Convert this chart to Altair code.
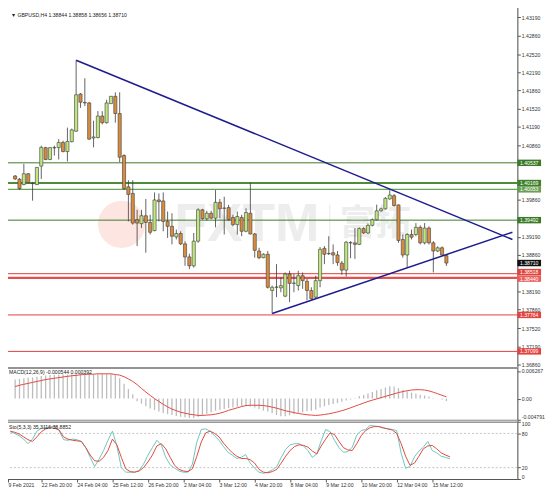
import altair as alt
import pandas as pd

# ---------------- data ----------------
opens = [1.40297, 1.40238, 1.40140, 1.40338, 1.40158, 1.40140, 1.40477, 1.40814, 1.40598, 1.40810,
         1.40814, 1.40909, 1.40742, 1.40922, 1.41113, 1.41791, 1.41629, 1.41629, 1.40990, 1.40999,
         1.41390, 1.41269, 1.41616, 1.41750, 1.41436, 1.40670, 1.40099, 1.39979, 1.39500, 1.39428,
         1.39572, 1.39451, 1.39302, 1.39860, 1.39842, 1.39469, 1.39379, 1.39186, 1.39248, 1.39060,
         1.38821, 1.38659, 1.39109, 1.39680, 1.39518, 1.39618, 1.39528, 1.39816, 1.39708, 1.39721,
         1.39541, 1.39410, 1.39541, 1.39289, 1.39618, 1.39240, 1.38929, 1.38808, 1.38870, 1.38209,
         1.38268, 1.38258, 1.38106, 1.38510, 1.38340, 1.38299, 1.38479, 1.38376, 1.38209, 1.38088,
         1.38389, 1.38978, 1.38880, 1.38898, 1.38857, 1.38708, 1.38581, 1.39078, 1.39078, 1.39050,
         1.39338, 1.39258, 1.39397, 1.39500, 1.39662, 1.39698, 1.39878, 1.39937, 1.39770, 1.39140,
         1.38857, 1.39230, 1.39230, 1.39361, 1.39078, 1.39348, 1.39078, 1.38929, 1.38988, 1.38844]

highs = [1.40315, 1.40261, 1.40518, 1.40351, 1.40189, 1.40459, 1.40850, 1.40828, 1.40819, 1.40850,
         1.40968, 1.40940, 1.41179, 1.41161, 1.42408, 1.41809, 1.42079, 1.41647, 1.41305, 1.41480,
         1.41480, 1.41688, 1.41755, 1.41822, 1.41822, 1.40693, 1.40220, 1.40220, 1.39680, 1.39680,
         1.39878, 1.39590, 1.39997, 1.39979, 1.39997, 1.39649, 1.39618, 1.39320, 1.39289, 1.39109,
         1.38880, 1.39258, 1.39708, 1.39698, 1.39662, 1.39662, 1.40040, 1.39878, 1.39919, 1.39770,
         1.39590, 1.39649, 1.39590, 1.39708, 1.40176, 1.39258, 1.38988, 1.38888, 1.38929, 1.38299,
         1.38690, 1.38448, 1.38538, 1.38569, 1.38510, 1.38569, 1.38538, 1.38420, 1.38268, 1.38479,
         1.39001, 1.39019, 1.39199, 1.39050, 1.38929, 1.38749, 1.39109, 1.39109, 1.39348, 1.39361,
         1.39361, 1.39433, 1.39523, 1.39775, 1.39721, 1.39914, 1.40040, 1.39968, 1.39775, 1.39230,
         1.39253, 1.39320, 1.39438, 1.39397, 1.39438, 1.39379, 1.39109, 1.39014, 1.39014, 1.38858]

lows = [1.40225, 1.40045, 1.40129, 1.40158, 1.39847, 1.40135, 1.40243, 1.40585, 1.40585, 1.40670,
        1.40598, 1.40729, 1.40562, 1.40909, 1.41102, 1.41539, 1.41570, 1.40958, 1.40819, 1.40981,
        1.41238, 1.41251, 1.41611, 1.41269, 1.40549, 1.40040, 1.39469, 1.39410, 1.39019, 1.39348,
        1.38898, 1.39230, 1.39289, 1.39469, 1.39289, 1.39168, 1.39050, 1.39140, 1.39037, 1.38659,
        1.38599, 1.38628, 1.39078, 1.39500, 1.39482, 1.39510, 1.39361, 1.39528, 1.39230, 1.39482,
        1.39379, 1.39230, 1.39199, 1.39271, 1.39230, 1.38808, 1.38780, 1.38798, 1.38245, 1.37790,
        1.38088, 1.38178, 1.38088, 1.37998, 1.38178, 1.38209, 1.38240, 1.38029, 1.38042, 1.38060,
        1.38268, 1.38690, 1.38857, 1.38690, 1.38659, 1.38497, 1.38461, 1.38798, 1.38785, 1.39037,
        1.39240, 1.39240, 1.39379, 1.39487, 1.39644, 1.39685, 1.39865, 1.39739, 1.39078, 1.38808,
        1.38628, 1.39140, 1.39199, 1.39050, 1.39050, 1.39050, 1.38538, 1.38911, 1.38839, 1.38656]

closes = [1.40243, 1.40069, 1.40338, 1.40176, 1.40162, 1.40454, 1.40819, 1.40598, 1.40814, 1.40814,
          1.40909, 1.40742, 1.40927, 1.41138, 1.41778, 1.41642, 1.41638, 1.40968, 1.41008, 1.41390,
          1.41269, 1.41629, 1.41750, 1.41436, 1.40639, 1.40069, 1.39961, 1.39438, 1.39438, 1.39572,
          1.39451, 1.39271, 1.39860, 1.39829, 1.39469, 1.39379, 1.39199, 1.39248, 1.39060, 1.38821,
          1.38659, 1.39109, 1.39680, 1.39518, 1.39618, 1.39528, 1.39816, 1.39698, 1.39712, 1.39500,
          1.39410, 1.39559, 1.39289, 1.39631, 1.39240, 1.38942, 1.38808, 1.38870, 1.38268, 1.38268,
          1.38272, 1.38299, 1.38510, 1.38340, 1.38344, 1.38479, 1.38389, 1.38209, 1.38060, 1.38389,
          1.38960, 1.38870, 1.38884, 1.38857, 1.38718, 1.38581, 1.39091, 1.39082, 1.39050, 1.39338,
          1.39258, 1.39397, 1.39500, 1.39662, 1.39698, 1.39888, 1.39950, 1.39757, 1.39122, 1.38857,
          1.39230, 1.39181, 1.39361, 1.39078, 1.39348, 1.39078, 1.38929, 1.38988, 1.38857, 1.38710]

macd_main = [0.00432, 0.00446, 0.00461, 0.00475, 0.00482, 0.00497, 0.00511, 0.00526, 0.00533, 0.00540,
             0.00540, 0.00547, 0.00547, 0.00554, 0.00562, 0.00569, 0.00569, 0.00562, 0.00554, 0.00554,
             0.00562, 0.00562, 0.00554, 0.00533, 0.00461, 0.00338, 0.00216, 0.00101, -0.00058, -0.00115,
             -0.00173, -0.00223, -0.00259, -0.00295, -0.00324, -0.00353, -0.00374, -0.00396, -0.00410, -0.00425,
             -0.00439, -0.00439, -0.00418, -0.00382, -0.00346, -0.00310, -0.00274, -0.00259, -0.00238, -0.00216,
             -0.00202, -0.00187, -0.00173, -0.00166, -0.00180, -0.00202, -0.00238, -0.00274, -0.00295, -0.00331,
             -0.00374, -0.00403, -0.00403, -0.00382, -0.00353, -0.00331, -0.00310, -0.00288, -0.00274, -0.00252,
             -0.00202, -0.00173, -0.00144, -0.00122, -0.00101, -0.00072, -0.00043, -0.00022, 0.00014, 0.00058,
             0.00086, 0.00115, 0.00151, 0.00187, 0.00216, 0.00252, 0.00281, 0.00274, 0.00238, 0.00202,
             0.00166, 0.00137, 0.00108, 0.00086, 0.00072, 0.00050, 0.00015, 0.00000, -0.00022, -0.000544]

macd_signal = [0.00274, 0.00302, 0.00324, 0.00346, 0.00367, 0.00389, 0.00410, 0.00432, 0.00446, 0.00461,
               0.00475, 0.00490, 0.00504, 0.00518, 0.00526, 0.00540, 0.00547, 0.00554, 0.00554, 0.00562,
               0.00562, 0.00562, 0.00562, 0.00547, 0.00533, 0.00497, 0.00446, 0.00389, 0.00317, 0.00230,
               0.00151, 0.00072, 0.00000, -0.00065, -0.00130, -0.00187, -0.00238, -0.00274, -0.00310, -0.00331,
               -0.00353, -0.00367, -0.00382, -0.00382, -0.00374, -0.00367, -0.00353, -0.00331, -0.00302, -0.00266,
               -0.00238, -0.00209, -0.00180, -0.00158, -0.00151, -0.00151, -0.00151, -0.00158, -0.00173, -0.00194,
               -0.00216, -0.00245, -0.00274, -0.00295, -0.00317, -0.00338, -0.00353, -0.00367, -0.00374, -0.00382,
               -0.00374, -0.00360, -0.00346, -0.00324, -0.00302, -0.00274, -0.00245, -0.00209, -0.00173, -0.00137,
               -0.00101, -0.00065, -0.00036, -0.00007, 0.00022, 0.00050, 0.00079, 0.00108, 0.00137, 0.00158,
               0.00180, 0.00194, 0.00202, 0.00202, 0.00194, 0.00175, 0.00145, 0.00110, 0.00075, 0.000392]

stoch_k = [83, 80, 76, 70, 62, 70, 84, 89, 90, 91,
           93, 85, 69, 68, 70, 69, 66, 55, 38, 22,
           35, 50, 68, 84, 58, 20, 12, 12, 12, 15,
           26, 42, 55, 68, 60, 38, 25, 19, 14, 12,
           12, 26, 65, 87, 88, 84, 76, 68, 57, 47,
           42, 36, 38, 43, 28, 19, 12, 10, 12, 16,
           22, 38, 52, 60, 62, 62, 58, 50, 38, 44,
           67, 87, 83, 68, 55, 47, 48, 56, 77, 85,
           87, 94, 93, 92, 89, 88, 87, 85, 45, 19,
           22, 39, 49, 56, 66, 50, 46, 40, 38, 35.31]

stoch_d = [84, 82, 79, 74, 69, 66, 74, 83, 88, 90,
           89, 86, 74, 70, 68, 67, 66, 55, 42, 32,
           31, 38, 50, 70, 60, 38, 18, 13, 12, 14,
           20, 30, 42, 58, 62, 53, 38, 24, 17, 14,
           13, 18, 40, 65, 81, 84, 80, 74, 63, 54,
           46, 40, 36, 36, 34, 28, 17, 12, 11, 13,
           17, 28, 40, 50, 57, 60, 59, 56, 49, 44,
           58, 70, 81, 78, 66, 55, 51, 50, 62, 76,
           85, 90, 92, 92, 90, 88, 86, 80, 62, 40,
           24, 28, 40, 53, 58, 59, 53, 46, 42, 38.89]

tick_bars = [0.5, 8, 16, 24, 32, 40, 48, 56, 64, 72, 80, 88, 96]
tick_labels = ["9 Feb 2021", "22 Feb 20:00", "24 Feb 04:00", "25 Feb 12:00", "26 Feb 20:00",
               "2 Mar 04:00", "3 Mar 12:00", "4 Mar 20:00", "8 Mar 04:00", "9 Mar 12:00",
               "10 Mar 20:00", "12 Mar 04:00", "15 Mar 12:00"]

price_ticks = [1.36860, 1.37190, 1.37520, 1.37860, 1.38190, 1.38860, 1.39190, 1.39860,
               1.40860, 1.41190, 1.41520, 1.41860, 1.42190, 1.42520, 1.42860, 1.43190]

level_prices = [1.40537, 1.40169, 1.40053, 1.39492, 1.38518, 1.38440, 1.37764, 1.37099]
level_colors = ["#3b7a26", "#4f8c3a", "#6aa356", "#3b7a26", "#e5625e", "#e2514d", "#e0403c", "#e0403c"]
level_widths = [1.0, 2.0, 1.3, 1.0, 1.4, 2.4, 1.0, 1.0]

box_prices = [1.40537, 1.40169, 1.40053, 1.39492, 1.38710, 1.38518, 1.38440, 1.37764, 1.37099]
box_colors = ["#3b7a26", "#3f7f2a", "#6a9f55", "#3b7a26", "#111111", "#e2443f", "#e8605c", "#e2443f", "#e2443f"]
box_shift = [0, 0, 0, 0, 0, -1.5, 0.8, 0, 0]

tri_bars = [15, 115.16, 60, 115.16]
tri_prices = [1.42408, 1.39140, 1.37790, 1.39272]
tri_group = ["upper", "upper", "lower", "lower"]

header_text = "\u25bc GBPUSD,H4  1.38844 1.38858 1.38656 1.38710"
macd_text = "MACD(12,26,9) -0.000544 0.000392"
sto_text = "Sto(5,3,3) 35.3116 38.8852"

# ---------------- layout ----------------
n = len(opens)
bar_index = list(range(1, n + 1))
W = 517
H_MAIN, H_MACD, H_STO = 366, 54, 59
FONT = "Liberation Sans"
FS = 5.2
BULL, BEAR, EDGE = "#bfe67f", "#da8c3e", "#3c3c3c"

xs = alt.Scale(domain=[0.267, 115.16], nice=False, zero=False)
ps = alt.Scale(domain=[1.36806, 1.43393], nice=False, zero=False)
ms = alt.Scale(domain=[-0.00503, 0.00706], nice=False, zero=False)
ss = alt.Scale(domain=[0, 102.2], nice=False, zero=False)


def yaxis(values, **kw):
    return alt.Axis(orient="right", values=values, title=None, grid=False, labelFont=FONT,
                    labelFontSize=FS, labelColor="#333333", tickColor="#555555", tickSize=3,
                    domainColor="#555555", domainWidth=1, labelPadding=1, labelOverlap=False, **kw)


price_axis = yaxis(price_ticks, format=".5f", labelFlush=False)
macd_axis = yaxis([-0.004791, 0, 0.006267], labelFlush=2,
                  labelExpr="datum.value > 0.001 ? '0.006267' : (datum.value < -0.001 ? '-0.004791' : '0.00')")
sto_axis = yaxis([0, 20, 80, 100], labelFlush=2)

vals_str = ",".join(str(v) for v in tick_bars)
labs_str = ",".join("'" + s + "'" for s in tick_labels)
x_axis = alt.Axis(orient="bottom", values=tick_bars, title=None, grid=False, labelFont=FONT,
                  labelFontSize=FS, labelColor="#333333", labelAlign="left", labelFlush=False,
                  labelOverlap=False, labelPadding=1, tickSize=3, tickColor="#555555",
                  domainColor="#555555", domainWidth=1.2,
                  labelExpr=f"[{labs_str}][indexof([{vals_str}], datum.value)]")

xq = alt.X("i:Q", scale=xs, axis=None, title=None)
one = pd.DataFrame({"a": [0]})

# ---------------- main price panel ----------------
candles = pd.DataFrame({"i": bar_index, "open": opens, "high": highs, "low": lows, "close": closes})
candles["dir"] = ["up" if c >= o else "down" for o, c in zip(opens, closes)]

wm_circle = alt.Chart(one).mark_circle(size=2290, color="#fde6e2", opacity=1).encode(
    x=alt.value(116), y=alt.value(221))
wm_fxtm = alt.Chart(one).mark_text(text="FXTM", font=FONT, fontSize=54, fontWeight="bold",
                                   color="#ededed", align="center", baseline="middle").encode(
    x=alt.value(243), y=alt.value(222))
wm_sep = alt.Chart(one).mark_rule(color="#e8e8e8", strokeWidth=1).encode(
    x=alt.value(327), y=alt.value(201), y2=alt.value(238))
wm_cn = alt.Chart(one).mark_text(text="富拓", font="Noto Sans CJK SC", fontSize=36, fontWeight="bold",
                                 color="#ededed", align="center", baseline="middle").encode(
    x=alt.value(373), y=alt.value(221))

levels = pd.DataFrame({"p": level_prices, "c": level_colors, "w": level_widths})
lvl = alt.Chart(levels).mark_rule().encode(
    y=alt.Y("p:Q", scale=ps, axis=price_axis, title=None),
    color=alt.Color("c:N", scale=None),
    strokeWidth=alt.StrokeWidth("w:Q", scale=None))

wick = alt.Chart(candles).mark_rule(color=EDGE, strokeWidth=0.8).encode(
    x=xq, y=alt.Y("low:Q", scale=ps, axis=price_axis, title=None), y2="high:Q")
body = alt.Chart(candles).mark_bar(size=3.2, stroke=EDGE, strokeWidth=0.6).encode(
    x=xq, y=alt.Y("open:Q", scale=ps, axis=price_axis, title=None), y2="close:Q",
    color=alt.Color("dir:N", scale=alt.Scale(domain=["up", "down"], range=[BULL, BEAR]), legend=None))

tri = pd.DataFrame({"i": tri_bars, "p": tri_prices, "g": tri_group})
trl = alt.Chart(tri).mark_line(color="#1d1d8e", strokeWidth=1.5, clip=True).encode(
    x=xq, y=alt.Y("p:Q", scale=ps, axis=price_axis, title=None), detail="g:N")

boxes = pd.DataFrame({"p": box_prices, "lab": [f"{v:.5f}" for v in box_prices],
                      "c": box_colors, "s": box_shift})
box_layers = []
for shift in sorted(set(box_shift)):
    sub = boxes[boxes["s"] == shift]
    box_layers.append(alt.Chart(sub).mark_tick(orient="horizontal", size=24, thickness=6.5, opacity=1,
                                               yOffset=shift).encode(
        x=alt.value(W + 12), y=alt.Y("p:Q", scale=ps, axis=price_axis, title=None),
        color=alt.Color("c:N", scale=None)))
    box_layers.append(alt.Chart(sub).mark_text(font=FONT, fontSize=FS, color="white", align="center",
                                               baseline="middle", dy=shift).encode(
        x=alt.value(W + 12), y=alt.Y("p:Q", scale=ps, axis=price_axis, title=None), text="lab:N"))

header = alt.Chart(one).mark_text(text=header_text, font=FONT, fontSize=FS, color="#222222",
                                  align="left", baseline="top").encode(x=alt.value(4), y=alt.value(6.5))

main = alt.layer(wm_circle, wm_fxtm, wm_sep, wm_cn, lvl, wick, body, trl, *box_layers, header).properties(
    width=W, height=H_MAIN)

# ---------------- MACD panel ----------------
macd_df = pd.DataFrame({"i": bar_index, "m": macd_main, "s": macd_signal})
hist = alt.Chart(macd_df).mark_bar(size=1.3, color="#bcbcbc").encode(
    x=xq, y=alt.Y("m:Q", scale=ms, axis=macd_axis, title=None), y2=alt.datum(0))
sig = alt.Chart(macd_df).mark_line(color="#e2483f", strokeWidth=1).encode(
    x=xq, y=alt.Y("s:Q", scale=ms, axis=macd_axis, title=None))
macd_top = alt.Chart(one).mark_rule(color="#777777", strokeWidth=1.6).encode(
    x=alt.value(0), x2=alt.value(W), y=alt.value(0.5))
macd_bot = alt.Chart(one).mark_rule(color="#777777", strokeWidth=1.2).encode(
    x=alt.value(0), x2=alt.value(W), y=alt.value(H_MACD - 0.5))
macd_lab = alt.Chart(one).mark_text(text=macd_text, font=FONT, fontSize=FS, color="#222222",
                                    align="left", baseline="top").encode(x=alt.value(2), y=alt.value(3))
macd = alt.layer(hist, sig, macd_top, macd_bot, macd_lab).properties(width=W, height=H_MACD)

# ---------------- Stochastic panel ----------------
xs_axis = alt.X("i:Q", scale=xs, axis=x_axis, title=None)
sto_df = pd.DataFrame({"i": bar_index + bar_index, "v": stoch_k + stoch_d,
                       "s": ["K"] * n + ["D"] * n})
lvl_df = pd.DataFrame({"v": [20, 80]})
sto_lvls = alt.Chart(lvl_df).mark_rule(color="#b5b5b5", strokeDash=[2, 2], strokeWidth=0.8).encode(
    y=alt.Y("v:Q", scale=ss, axis=sto_axis, title=None))
sto_lines = alt.Chart(sto_df).mark_line(strokeWidth=1).encode(
    x=xs_axis, y=alt.Y("v:Q", scale=ss, axis=sto_axis, title=None),
    color=alt.Color("s:N", scale=alt.Scale(domain=["K", "D"], range=["#6cc6c0", "#e2483f"]), legend=None))
sto_top = alt.Chart(one).mark_rule(color="#777777", strokeWidth=1.2).encode(
    x=alt.value(0), x2=alt.value(W), y=alt.value(1.5))
sto_lab = alt.Chart(one).mark_text(text=sto_text, font=FONT, fontSize=FS, color="#222222",
                                   align="left", baseline="top").encode(x=alt.value(2), y=alt.value(4))
sto = alt.layer(sto_lvls, sto_lines, sto_top, sto_lab).properties(width=W, height=H_STO)

chart = alt.vconcat(main, macd, sto, spacing=0, bounds="flush").resolve_scale(
    x="independent", y="independent", color="independent").properties(
    padding={"top": -6, "left": -3, "right": 0, "bottom": 0}).configure_view(
    stroke=None).configure(font=FONT, background="white")

chart.save("out.html", embed_options={"renderer": "svg", "actions": False})
